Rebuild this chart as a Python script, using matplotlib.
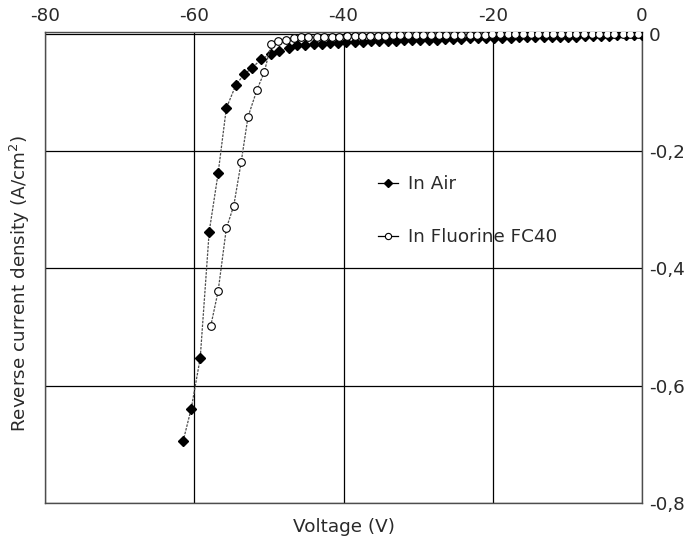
import matplotlib.pyplot as plt

# Data
air_v = [-61.5, -60.4, -59.2, -58.0, -56.8, -55.7, -54.4, -53.3, -52.2, -51.0,
         -49.7, -48.6, -47.3, -46.2, -45.1, -44.0, -42.9, -41.8, -40.7, -39.6,
         -38.5, -37.4, -36.3, -35.2, -34.1, -33.0, -31.9, -30.8, -29.7, -28.6,
         -27.5, -26.4, -25.3, -24.2, -23.1, -22.0, -20.9, -19.8, -18.7, -17.6,
         -16.5, -15.4, -14.3, -13.2, -12.1, -11.0, -9.9, -8.8, -7.7, -6.6,
         -5.5, -4.4, -3.3, -2.2, -1.1, 0.0]
air_j = [-0.695, -0.639, -0.553, -0.338, -0.238, -0.127, -0.087, -0.069, -0.058, -0.043,
         -0.035, -0.030, -0.024, -0.020, -0.019, -0.018, -0.017, -0.016, -0.016, -0.015,
         -0.014, -0.014, -0.013, -0.013, -0.012, -0.012, -0.011, -0.011, -0.010, -0.010,
         -0.010, -0.009, -0.009, -0.009, -0.008, -0.008, -0.008, -0.007, -0.007, -0.007,
         -0.006, -0.006, -0.006, -0.006, -0.005, -0.005, -0.005, -0.005, -0.004, -0.004,
         -0.004, -0.004, -0.003, -0.003, -0.003, -0.003]

fc40_v = [-57.8, -56.8, -55.7, -54.7, -53.7, -52.8, -51.6, -50.6, -49.7, -48.8,
          -47.7, -46.7, -45.7, -44.7, -43.6, -42.6, -41.6, -40.6, -39.5, -38.5,
          -37.5, -36.5, -35.4, -34.4, -33.4, -32.4, -31.3, -30.3, -29.3, -28.3,
          -27.2, -26.2, -25.2, -24.2, -23.1, -22.1, -21.1, -20.1, -19.0, -18.0,
          -17.0, -16.0, -14.9, -13.9, -12.9, -11.9, -10.8, -9.8, -8.8, -7.8,
          -6.7, -5.7, -4.7, -3.7, -2.6, -1.6, -0.6]
fc40_j = [-0.499, -0.439, -0.332, -0.293, -0.218, -0.142, -0.096, -0.065, -0.018, -0.013,
          -0.010, -0.007, -0.006, -0.006, -0.005, -0.005, -0.005, -0.005, -0.004, -0.004,
          -0.004, -0.004, -0.004, -0.004, -0.002, -0.002, -0.002, -0.002, -0.002, -0.002,
          -0.002, -0.002, -0.002, -0.002, -0.002, -0.002, -0.002, -0.001, -0.001, -0.001,
          -0.001, -0.001, -0.001, -0.001, -0.001, -0.001, -0.001, -0.001, -0.001, -0.001,
          -0.001, -0.001, -0.001, -0.001, -0.001, -0.001, -0.001]

x_ticks = [-80, -60, -40, -20, 0]
y_ticks = [0, -0.2, -0.4, -0.6, -0.8]
y_labels = ['0', '-0,2', '-0,4', '-0,6', '-0,8']

txt = '#2a2a2a'
fs = 13.2
plt.rcParams['font.family'] = ['DejaVu Sans']
plt.rcParams['axes.unicode_minus'] = False

fig = plt.figure(figsize=(6.89, 5.44), dpi=100)
ax = fig.add_axes([0.0653, 0.0754, 0.8665, 0.866])

# Curves
ax.plot(air_v, air_j, color='0.3', lw=0.9, ls=(0, (2, 1)),
        marker='D', ms=5, mfc='black', mec='black', zorder=3)
ax.plot(fc40_v, fc40_j, color='0.3', lw=0.9, ls=(0, (2, 1)),
        marker='o', ms=5.5, mfc='white', mec='black', mew=0.8, zorder=4)

# Legend handles drawn with solid lines, as in the original
h_air, = ax.plot([], [], color='black', lw=0.9, marker='D', ms=4,
                 mfc='black', mec='black', label='In Air')
h_fc40, = ax.plot([], [], color='black', lw=0.9, marker='o', ms=4.5,
                  mfc='white', mec='black', mew=0.8, label='In Fluorine FC40')

# Axes
ax.set_xlim(-80, 0)
ax.set_ylim(-0.8, 0.003)
ax.set_xticks(x_ticks)
ax.set_xticklabels([str(v) for v in x_ticks])
ax.set_yticks(y_ticks)
ax.set_yticklabels(y_labels)
ax.xaxis.tick_top()
ax.yaxis.tick_right()
ax.tick_params(length=0, labelsize=fs, labelcolor=txt, pad=5)
ax.grid(True, color='black', lw=0.9)
for s in ax.spines.values():
    s.set_color('0.3')
    s.set_linewidth(1)

ax.set_xlabel('Voltage (V)', fontsize=fs, color=txt)
ax.xaxis.set_label_coords(0.5, -0.032)
ax.set_ylabel('Reverse current density (A/cm$^2$)', fontsize=fs, color=txt)
ax.yaxis.set_label_coords(-0.022, 0.466)

# Legend
fig.legend(handles=[h_air, h_fc40], loc='upper left', bbox_to_anchor=(0.5486, 0.678),
           frameon=False, fontsize=fs, labelcolor=txt, handlelength=1.1,
           handletextpad=0.55, labelspacing=1.9, borderpad=0, borderaxespad=0)

fig.savefig('out.png', dpi=100)
